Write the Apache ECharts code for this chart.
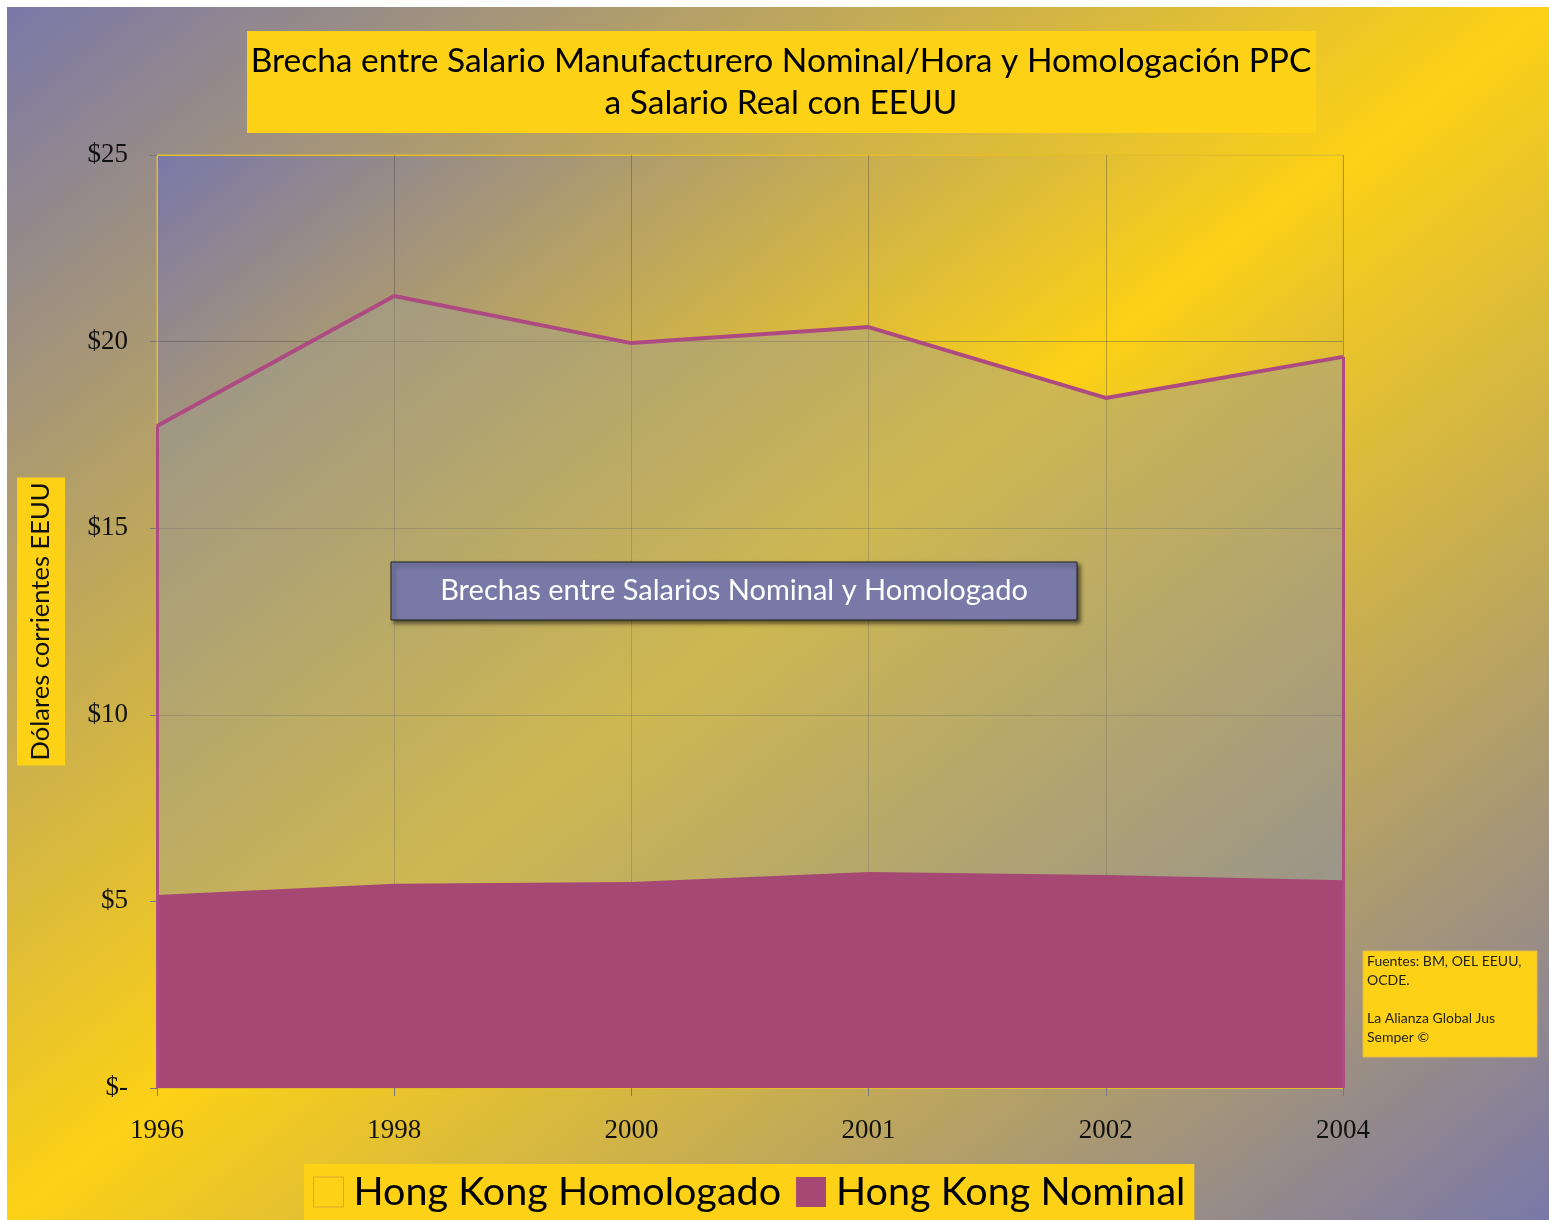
<!DOCTYPE html>
<html>
<head>
<meta charset="utf-8">
<script src="https://cdn.jsdelivr.net/npm/echarts@6/dist/echarts.min.js"></script>
<style>
html, body { margin: 0; padding: 0; background: #fff; }
#bg { position: absolute; left: 7px; top: 7px; width: 1542px; height: 1213px;
      background: linear-gradient(to bottom right, #7a78a9 0%, #fcd116 50%, #7a78a9 100%); }
#main { position: absolute; left: 0; top: 0; width: 1549px; height: 1220px; }
</style>
</head>
<body>
<div id="bg"></div>
<div id="main"></div>
<script>
var years = ['1996', '1998', '2000', '2001', '2002', '2004'];
var homologado = [17.74, 21.22, 19.96, 20.39, 18.49, 19.59];
var nominal = [5.17, 5.47, 5.52, 5.79, 5.71, 5.57];
var yTickLabels = ['$-', '$5', '$10', '$15', '$20', '$25'];
var seriesNames = ['Hong Kong Homologado', 'Hong Kong Nominal'];

var chart = echarts.init(document.getElementById('main'));

// plot area: 157..1343 x 155..1088
var gx = 157, gy = 155, gw = 1186, gh = 933;
// gradient whose middle line runs corner to corner (like the page background)
var k = gw * gh / (gw * gw + gh * gh);
var cx = gx + gw / 2, cy = gy + gh / 2;
var plotBg = new echarts.graphic.LinearGradient(
    cx - gh * k, cy - gw * k, cx + gh * k, cy + gw * k,
    [{offset: 0, color: '#7a78a9'}, {offset: 0.5, color: '#fcd116'}, {offset: 1, color: '#7a78a9'}],
    true
);

var gridGray = 'rgba(60,60,60,0.35)';
var borderYellow = '#e3bd2a';

var option = {
    title: {
        text: 'Brecha entre Salario Manufacturero Nominal/Hora y Homologación PPC\na Salario Real con EEUU',
        left: 781,
        top: 40,
        textAlign: 'center',
        padding: 0,
        textStyle: {
            fontFamily: 'Lato',
            fontSize: 33.5,
            fontWeight: 'normal',
            color: '#000',
            lineHeight: 42
        }
    },
    legend: {
        left: 304,
        top: 1164,
        padding: [8, 9, 8, 9],
        backgroundColor: '#fcd116',
        itemWidth: 30,
        itemHeight: 30,
        itemGap: 15,
        icon: 'rect',
        textStyle: {
            fontFamily: 'Lato',
            fontSize: 39.5,
            color: '#000',
            padding: [0, 0, 0, 5]
        },
        data: [
            {name: seriesNames[0], itemStyle: {color: '#fcd116', borderColor: '#d8a92a', borderWidth: 1}},
            {name: seriesNames[1], itemStyle: {color: '#a64874'}}
        ]
    },
    grid: {
        left: gx,
        top: gy,
        right: 1549 - gx - gw,
        bottom: 1220 - gy - gh,
        show: true,
        backgroundColor: plotBg,
        borderColor: borderYellow,
        borderWidth: 1
    },
    xAxis: {
        type: 'category',
        boundaryGap: false,
        data: years,
        axisLine: {lineStyle: {color: borderYellow}},
        axisTick: {show: true, length: 8, lineStyle: {color: '#777'}},
        axisLabel: {fontFamily: 'Liberation Serif', fontSize: 27, color: '#111', margin: 29},
        splitLine: {show: true, lineStyle: {color: [borderYellow, gridGray, gridGray, gridGray, gridGray, gridGray], width: 1}}
    },
    yAxis: {
        type: 'value',
        min: 0,
        max: 25,
        interval: 5,
        name: 'Dólares corrientes EEUU',
        nameLocation: 'middle',
        nameRotate: 90,
        nameGap: 92,
        nameTextStyle: {
            fontFamily: 'Lato',
            fontSize: 25.5,
            color: '#111',
            backgroundColor: '#fcd116',
            padding: [11, 5, 11, 5]
        },
        axisLine: {show: true, lineStyle: {color: borderYellow}},
        axisTick: {show: true, length: 7, lineStyle: {color: '#777'}},
        axisLabel: {
            fontFamily: 'Liberation Serif',
            fontSize: 27,
            color: '#111',
            margin: 29,
            formatter: function (v) { return yTickLabels[Math.round(v / 5)]; }
        },
        splitLine: {show: true, lineStyle: {color: [gridGray, gridGray, gridGray, gridGray, gridGray, borderYellow], width: 1}}
    },
    series: [
        {
            name: seriesNames[0],
            type: 'line',
            data: homologado,
            symbol: 'none',
            z: 2,
            itemStyle: {color: '#fcd116'},
            lineStyle: {color: '#ae4a82', width: 4},
            areaStyle: {color: 'rgba(160,158,140,0.5)', opacity: 1},
            markLine: {
                silent: true,
                symbol: 'none',
                label: {show: false},
                lineStyle: {color: '#ae4a82', width: 3, type: 'solid'},
                data: [
                    [{coord: [0, homologado[0]]}, {coord: [0, 0]}],
                    [{coord: [years.length - 1, homologado[years.length - 1]]}, {coord: [years.length - 1, 0]}]
                ]
            }
        },
        {
            name: seriesNames[1],
            type: 'line',
            data: nominal,
            symbol: 'none',
            z: 3,
            itemStyle: {color: '#a64874'},
            lineStyle: {width: 0},
            areaStyle: {color: '#a64874', opacity: 1}
        }
    ],
    graphic: [
        {
            type: 'rect',
            z: 0,
            shape: {x: 247, y: 31, width: 1069, height: 102},
            style: {fill: '#fcd116'}
        },
        {
            type: 'rect',
            z: 100,
            shape: {x: 391, y: 562, width: 686, height: 58},
            style: {
                fill: '#7879a7', stroke: '#222', lineWidth: 1,
                shadowBlur: 4, shadowOffsetX: 3, shadowOffsetY: 3, shadowColor: 'rgba(0,0,0,0.55)'
            }
        },
        {
            type: 'text',
            z: 101,
            style: {
                text: 'Brechas entre Salarios Nominal y Homologado',
                x: 734, y: 591,
                textAlign: 'center', textVerticalAlign: 'middle',
                fill: '#fff', fontFamily: 'Lato', fontSize: 29
            }
        },
        {
            type: 'rect',
            z: 100,
            shape: {x: 1363, y: 951, width: 174, height: 106},
            style: {fill: '#fcd116', stroke: '#e6b94a', lineWidth: 1}
        },
        {
            type: 'text',
            z: 101,
            style: {
                text: 'Fuentes: BM, OEL EEUU,\nOCDE.\n\nLa Alianza Global Jus\nSemper ©',
                x: 1367, y: 952,
                fill: '#222', fontFamily: 'Lato', fontSize: 14, lineHeight: 19
            }
        }
    ]
};

chart.setOption(option);
</script>
</body>
</html>
